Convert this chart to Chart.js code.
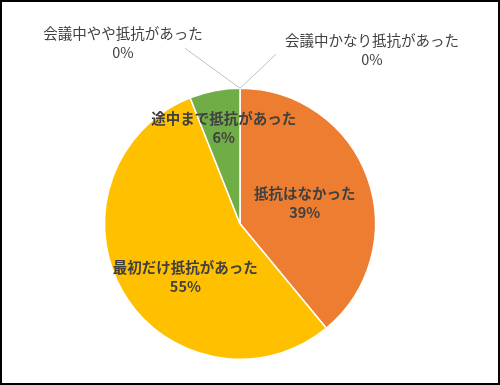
<!DOCTYPE html>
<html>
<head>
<meta charset="utf-8">
<script src="https://cdn.jsdelivr.net/npm/chart.js@4"></script>
<style>
	body { margin: 0; background: #fff; }
	#frame { position: absolute; left: 0; top: 0; width: 500px; height: 385px; box-sizing: border-box; border: 2px solid #000; }
	#box { position: absolute; left: 0; top: 0; width: 500px; height: 385px; }
</style>
</head>
<body>
<div id="frame"></div>
<div id="box"><canvas id="pie-chart" width="500" height="385"></canvas></div>
<script>
var labels = ["抵抗はなかった", "最初だけ抵抗があった", "途中まで抵抗があった", "会議中やや抵抗があった", "会議中かなり抵抗があった"];
var values = [39, 55, 6, 0, 0];
var colors = ["#ED7D31", "#FFC000", "#70AD47", "#5B9BD5", "#4472C4"];

// placement of each label: inside slices use a fraction of the radius,
// the zero slices get a callout from the top of the pie
var labelPlaces = [
	{ frac: 0.5, dx: 1, dy: 2, bold: true },
	{ frac: 0.7, dx: 27, dy: 5, bold: true },
	{ frac: 0.72, dx: 2, dy: 0, bold: true },
	{ callout: true, dx: -117, dy: -45, lx: -55, ly: -40 },
	{ callout: true, dx: 132, dy: -38, lx: 36, ly: -34 }
];

var pieLabels = {
	id: 'pieLabels',
	afterDatasetsDraw: function(chart) {
		var ctx = chart.ctx;
		var meta = chart.getDatasetMeta(0);
		var total = values.reduce(function(a, b) { return a + b; }, 0);
		ctx.save();
		ctx.textAlign = 'center';
		ctx.textBaseline = 'middle';
		ctx.fillStyle = '#404040';
		meta.data.forEach(function(arc, i) {
			var p = labelPlaces[i];
			var mid = (arc.startAngle + arc.endAngle) / 2;
			var x, y;
			if (p.callout) {
				var ox = arc.x + Math.cos(mid) * arc.outerRadius;
				var oy = arc.y + Math.sin(mid) * arc.outerRadius;
				ctx.strokeStyle = '#BFBFBF';
				ctx.lineWidth = 1;
				ctx.beginPath();
				ctx.moveTo(ox, oy);
				ctx.lineTo(ox + p.lx, oy + p.ly);
				ctx.stroke();
				x = ox + p.dx;
				y = oy + p.dy;
			} else {
				x = arc.x + Math.cos(mid) * arc.outerRadius * p.frac + p.dx;
				y = arc.y + Math.sin(mid) * arc.outerRadius * p.frac + p.dy;
			}
			ctx.font = (p.bold ? 'bold ' : '') + '14.5px "Noto Sans CJK JP"';
			ctx.fillText(labels[i], x, y - 9.5);
			ctx.fillText(Math.round(values[i] / total * 100) + '%', x, y + 9.5);
		});
		ctx.restore();
	}
};

new Chart(document.getElementById("pie-chart"), {
	type: 'pie',
	data: {
		labels: labels,
		datasets: [{
			data: values,
			backgroundColor: colors,
			borderColor: '#ffffff',
			borderWidth: 1.5
		}]
	},
	options: {
		responsive: false,
		animation: false,
		layout: { padding: { left: 103.5, right: 123.5, top: 87.5, bottom: 25 } },
		plugins: {
			legend: { display: false },
			tooltip: { enabled: false }
		}
	},
	plugins: [pieLabels]
});
</script>
</body>
</html>
